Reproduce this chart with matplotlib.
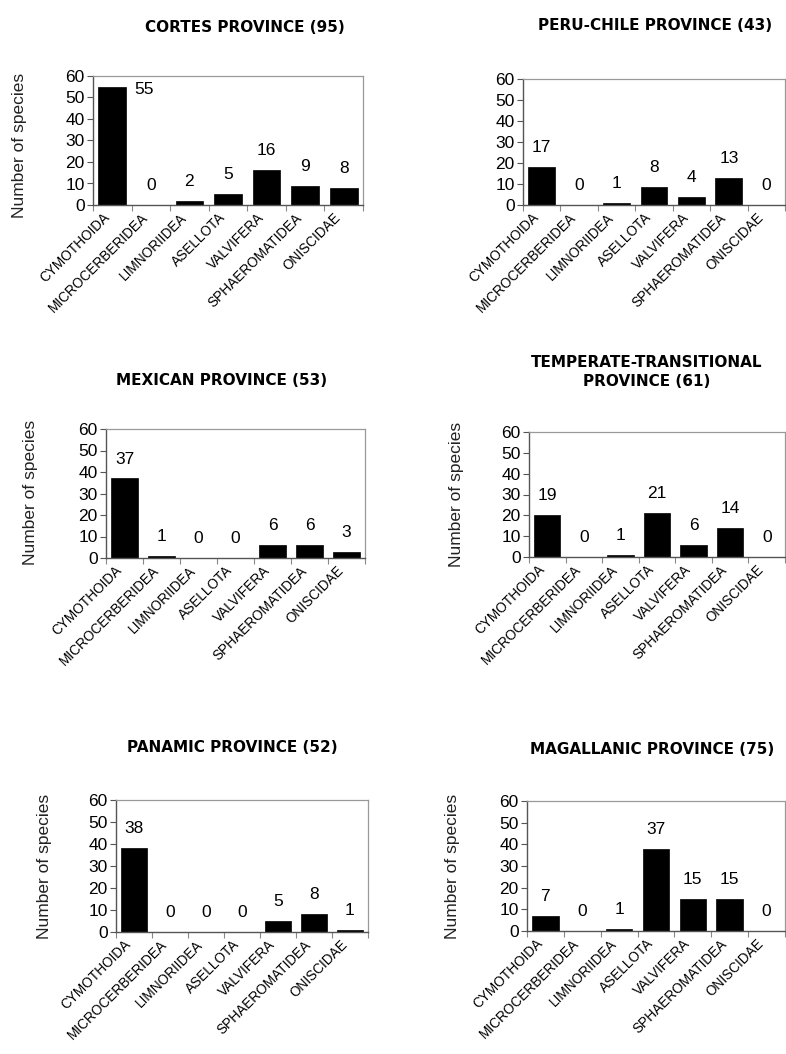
import matplotlib
matplotlib.use("Agg")
import matplotlib.pyplot as plt

categories = ["CYMOTHOIDA", "MICROCERBERIDEA", "LIMNORIIDEA", "ASELLOTA",
              "VALVIFERA", "SPHAEROMATIDEA", "ONISCIDAE"]

titles = ["CORTES PROVINCE (95)", "PERU-CHILE PROVINCE (43)",
          "MEXICAN PROVINCE (53)", "TEMPERATE-TRANSITIONAL\nPROVINCE (61)",
          "PANAMIC PROVINCE (52)", "MAGALLANIC PROVINCE (75)"]

# bar heights as drawn
cortes_bars = [55, 0, 2, 5, 16.5, 9, 8]
peru_bars = [18, 0, 1, 8.5, 4, 13, 0]
mexican_bars = [37, 1, 0, 0, 6, 6, 3]
temperate_bars = [20, 0, 1, 21, 6, 14, 0]
panamic_bars = [38, 0, 0, 0, 5, 8, 1]
magallanic_bars = [7, 0, 1, 38, 15, 15, 0]

# printed value labels
cortes_labels = [55, 0, 2, 5, 16, 9, 8]
peru_labels = [17, 0, 1, 8, 4, 13, 0]
mexican_labels = [37, 1, 0, 0, 6, 6, 3]
temperate_labels = [19, 0, 1, 21, 6, 14, 0]
panamic_labels = [38, 0, 0, 0, 5, 8, 1]
magallanic_labels = [7, 0, 1, 37, 15, 15, 0]

yticks = [0, 10, 20, 30, 40, 50, 60]
ylabel = "Number of species"

bars_all = [cortes_bars, peru_bars, mexican_bars, temperate_bars, panamic_bars, magallanic_bars]
labels_all = [cortes_labels, peru_labels, mexican_labels, temperate_labels, panamic_labels, magallanic_labels]

W, H = 786, 1054
DPI = 100
fig = plt.figure(figsize=(W / DPI, H / DPI), dpi=DPI)
fig.patch.set_facecolor("white")

# layout (pixels): left, top, right, bottom
rects = [(93, 76, 363, 205), (523, 79, 785, 205),
         (106, 429, 365, 558), (529, 432, 785, 557),
         (116, 800, 368, 932), (527, 801, 785, 931)]
title_pos = [(245, 27), (655, 25), (222, 380), (647, 372), (232, 747), (652, 750)]
ylabel_pos = [(20, 145), None, (31, 492), (456, 494), (45, 866), (452, 866)]

sans = ["Liberation Sans", "DejaVu Sans"]

for i in range(6):
    l, t, r, b = rects[i]
    ax = fig.add_axes([l / W, 1 - b / H, (r - l) / W, (b - t) / H])
    x = list(range(len(categories)))
    ax.bar(x, bars_all[i], width=0.72, color="black", edgecolor="black", linewidth=0.5)
    ax.set_xlim(-0.5, len(categories) - 0.5)
    ax.set_ylim(0, 60)
    ax.set_yticks(yticks)
    ax.set_yticklabels([str(v) for v in yticks], fontsize=12.5, family=sans)
    ax.set_xticks([k + 0.5 for k in range(-1, len(categories))], minor=False)
    ax.set_xticklabels([])
    ax.set_xticks(x, minor=True)
    ax.set_xticklabels(categories, minor=True, rotation=45, ha="right",
                       fontsize=9.8, family=sans)
    ax.tick_params(axis="x", which="minor", length=0, pad=4)
    ax.tick_params(axis="x", which="major", length=4, color="#888888", direction="out")
    ax.tick_params(axis="y", length=4, color="#555555", direction="out", pad=2)
    for s in ["top", "right"]:
        ax.spines[s].set_color("#999999")
        ax.spines[s].set_linewidth(0.9)
    for s in ["left", "bottom"]:
        ax.spines[s].set_color("#555555")
        ax.spines[s].set_linewidth(1.0)

    for k, (bv, lv) in enumerate(zip(bars_all[i], labels_all[i])):
        if bv + 9 > 58:
            ax.annotate(str(lv), xy=(k + 0.36, bv), xytext=(6, -2),
                        textcoords="offset points", ha="left", va="center",
                        fontsize=12.5, family=sans)
        else:
            ax.annotate(str(lv), xy=(k, bv), xytext=(0, 14),
                        textcoords="offset points", ha="center", va="center",
                        fontsize=12.5, family=sans)

    tx, ty = title_pos[i]
    fig.text(tx / W, 1 - ty / H, titles[i], ha="center", va="center",
             fontsize=11, fontweight="bold", family="DejaVu Sans", linespacing=1.3)
    if ylabel_pos[i] is not None:
        yx, yy = ylabel_pos[i]
        fig.text(yx / W, 1 - yy / H, ylabel, rotation=90, ha="center", va="center",
                 fontsize=12.5, family=sans, color="#222222")

fig.savefig("out.png", dpi=DPI, facecolor="white")
